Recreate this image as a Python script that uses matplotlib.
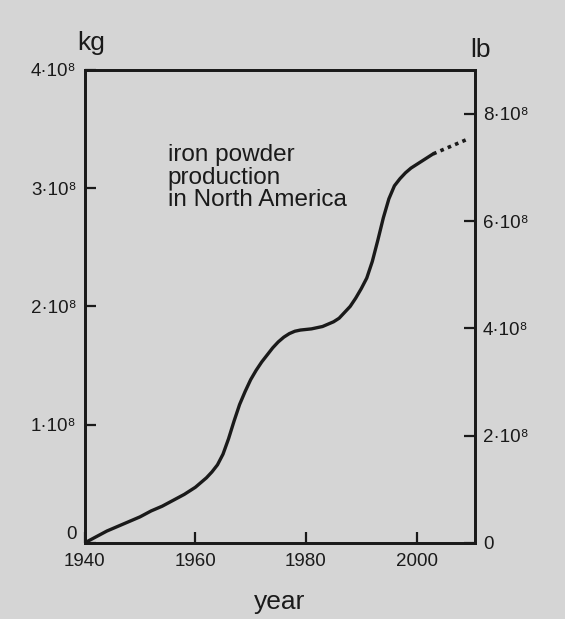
import matplotlib
matplotlib.use("Agg")
import matplotlib.pyplot as plt
import numpy as np

plt.rcParams["font.family"] = ["Liberation Sans", "DejaVu Sans"]

# iron powder production (units of 1e8 kg)
years = [1940, 1942, 1944, 1946, 1948, 1950, 1952, 1954, 1956, 1958, 1960,
         1961, 1962, 1963, 1964, 1965, 1966, 1967, 1968, 1969, 1970, 1971,
         1972, 1973, 1974, 1975, 1976, 1977, 1978, 1979, 1980, 1981, 1982,
         1983, 1984, 1985, 1986, 1987, 1988, 1989, 1990, 1991, 1992, 1993,
         1994, 1995, 1996, 1997, 1998, 1999, 2000, 2001, 2002, 2003]
kg_1e8 = [0.0, 0.05, 0.10, 0.14, 0.18, 0.22, 0.27, 0.31, 0.36, 0.41, 0.47,
          0.51, 0.55, 0.60, 0.66, 0.75, 0.88, 1.03, 1.17, 1.28, 1.38, 1.46,
          1.53, 1.59, 1.65, 1.70, 1.74, 1.77, 1.79, 1.80, 1.805, 1.81, 1.82,
          1.83, 1.85, 1.87, 1.90, 1.95, 2.00, 2.07, 2.15, 2.24, 2.38, 2.56,
          2.75, 2.91, 3.02, 3.08, 3.13, 3.17, 3.20, 3.23, 3.26, 3.29]
# dotted extrapolation
ext_years = [2003, 2005, 2007, 2009]
ext_kg_1e8 = [3.29, 3.33, 3.37, 3.41]

kg_ticks = [0, 1e8, 2e8, 3e8, 4e8]
kg_labels = ["0", "1·10⁸", "2·10⁸", "3·10⁸", "4·10⁸"]
lb_ticks = [0, 2e8, 4e8, 6e8, 8e8]
lb_labels = ["0", "2·10⁸", "4·10⁸", "6·10⁸", "8·10⁸"]
year_ticks = [1940, 1960, 1980, 2000]
LB_PER_KG = 2.2046

ink = "#1a1a1a"
bg = "#d5d5d5"
fig = plt.figure(figsize=(5.65, 6.19), dpi=100, facecolor=bg)
ax = fig.add_axes([0.150, 0.123, 0.690, 0.764], facecolor=bg)

ax.plot(years, np.array(kg_1e8) * 1e8, color=ink, lw=2.4,
        solid_capstyle="round", solid_joinstyle="round")
ax.plot(ext_years, np.array(ext_kg_1e8) * 1e8, color=ink, lw=2.6,
        ls=(0, (1, 1.2)))

ax.set_xlim(1940, 2010.5)
ax.set_ylim(0, 4e8)
ax.set_xticks(year_ticks)
ax.set_xticklabels([str(y) for y in year_ticks])
ax.set_yticks(kg_ticks)
ax.set_yticklabels(kg_labels)
for s in ax.spines.values():
    s.set_linewidth(2.0)
    s.set_color(ink)
ax.tick_params(direction="in", length=8, width=1.6, labelsize=13.5,
               colors=ink, pad=6)
ax.tick_params(axis="x", pad=7)
# the left "0" sits just above the corner in the original
ax.get_yticklabels()[0].set_verticalalignment("bottom")

ax2 = ax.twinx()
ax2.set_ylim(0, 4e8 * LB_PER_KG)
ax2.set_yticks(lb_ticks)
ax2.set_yticklabels(lb_labels)
ax2.tick_params(direction="in", length=8, width=1.6, labelsize=13.5,
                colors=ink, pad=6)
for s in ax2.spines.values():
    s.set_linewidth(2.0)
    s.set_color(ink)

ax.set_xlabel("year", fontsize=19, color=ink, labelpad=15)
fig.text(0.137, 0.919, "kg", fontsize=19, color=ink, ha="left")
fig.text(0.832, 0.908, "lb", fontsize=19, color=ink, ha="left")

ax.text(1955.0, 3.37e8, "iron powder\nproduction\nin North America",
        fontsize=17.5, color=ink, ha="left", va="top", linespacing=1.03)

fig.savefig("out.png", dpi=100, facecolor=bg)
